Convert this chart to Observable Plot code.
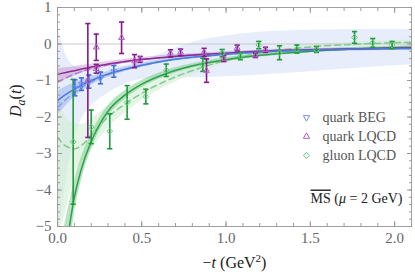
<!DOCTYPE html>
<html><head><meta charset="utf-8">
<script src="https://cdn.jsdelivr.net/npm/d3@7"></script>
<script src="https://cdn.jsdelivr.net/npm/@observablehq/plot@0.6"></script>
<style>
html,body{margin:0;padding:0;background:#fff;}
#chart{width:415px;height:279px;}
</style></head><body><div id="chart"></div>
<script>
// ---- data points ----
const begX   = [0.103, 0.142, 0.186, 0.255, 0.334];
const begY   = [-1.20, -1.10, -1.03, -0.93, -0.75];
const begErr = [0.22, 0.17, 0.18, 0.16, 0.16];

const qlX   = [0.18, 0.23, 0.23, 0.38, 0.457, 0.49, 0.67, 0.73, 0.87, 0.884, 0.987, 1.066, 1.174, 1.234];
const qlY   = [-1.00, -0.09, -0.68, 0.17, -0.47, -0.42, -0.26, -0.23, -0.23, -0.73, -0.40, -0.11, -0.31, -0.16];
const qlErr = [1.56, 0.36, 0.12, 0.43, 0.18, 0.08, 0.10, 0.09, 0.11, 0.32, 0.08, 0.08, 0.06, 0.07];

const glX   = [0.093, 0.20, 0.31, 0.413, 0.524, 0.645, 0.862, 0.977, 1.085, 1.194, 1.317, 1.42, 1.536, 1.762, 1.87, 1.985];
const glY   = [-2.68, -2.27, -2.39, -1.60, -1.44, -0.72, -0.57, -0.25, -0.33, -0.03, -0.24, -0.14, -0.15, 0.18, 0.03, -0.03];
const glErr = [1.71, 0.46, 0.48, 0.46, 0.20, 0.17, 0.18, 0.10, 0.10, 0.10, 0.19, 0.11, 0.08, 0.16, 0.12, 0.10];

// ---- fitted curves and bands ----
const cX = [0, 0.05, 0.1, 0.15, 0.2, 0.3, 0.4, 0.5, 0.65, 0.85, 1.0, 1.2, 1.5, 1.8, 2.1];

const blueSolid  = [-1.55, -1.38, -1.24, -1.11, -1.00, -0.82, -0.69, -0.58, -0.45, -0.34, -0.28, -0.22, -0.17, -0.14, -0.12];
const blueDashed = [-1.75, -1.52, -1.33, -1.17, -1.04, -0.84, -0.70, -0.59, -0.45, -0.34, -0.28, -0.22, -0.17, -0.14, -0.12];
const blueHi     = [-1.30, -1.17, -1.07, -0.98, -0.90, -0.75, -0.63, -0.53, -0.41, -0.30, -0.24, -0.18, -0.13, -0.10, -0.08];
const blueLo     = [-1.95, -1.70, -1.45, -1.28, -1.13, -0.91, -0.76, -0.64, -0.50, -0.39, -0.33, -0.27, -0.22, -0.19, -0.17];
const blueWideHi = [0.50, -0.30, -0.60, -0.65, -0.65, -0.62, -0.58, -0.50, -0.20, 0.10, 0.22, 0.32, 0.38, 0.40, 0.40];
const blueWideLo = [-5.50, -3.80, -2.60, -2.00, -1.70, -1.35, -1.10, -0.97, -0.93, -0.92, -0.90, -0.85, -0.76, -0.66, -0.57];

const purpSolid  = [-0.83, -0.78, -0.73, -0.68, -0.63, -0.55, -0.48, -0.42, -0.36, -0.29, -0.25, -0.20, -0.16, -0.13, -0.11];
const purpDashed = [-1.05, -0.93, -0.83, -0.74, -0.67, -0.57, -0.49, -0.43, -0.36, -0.29, -0.25, -0.20, -0.16, -0.13, -0.11];
const purpHi     = [-0.68, -0.65, -0.62, -0.58, -0.55, -0.48, -0.42, -0.37, -0.31, -0.25, -0.21, -0.17, -0.13, -0.10, -0.08];
const purpLo     = [-1.08, -0.97, -0.87, -0.79, -0.72, -0.62, -0.54, -0.47, -0.40, -0.33, -0.29, -0.24, -0.19, -0.16, -0.14];

const greenSolid  = [-7.00, -5.60, -4.20, -3.30, -2.68, -1.84, -1.40, -1.10, -0.80, -0.55, -0.43, -0.31, -0.20, -0.13, -0.09];
const greenDashed = [-2.55, -2.80, -2.87, -2.75, -2.50, -2.00, -1.65, -1.35, -1.00, -0.65, -0.45, -0.25, -0.08, 0.00, 0.05];
const greenHi     = [-5.80, -4.80, -3.75, -3.00, -2.46, -1.69, -1.28, -1.00, -0.72, -0.49, -0.38, -0.26, -0.16, -0.09, -0.05];
const greenLo     = [-8.20, -6.40, -4.65, -3.60, -2.90, -1.99, -1.52, -1.20, -0.88, -0.61, -0.48, -0.36, -0.24, -0.17, -0.13];
const greenWideHi = [-1.50, -2.00, -2.20, -2.20, -2.05, -1.70, -1.40, -1.15, -0.85, -0.55, -0.38, -0.20, -0.02, 0.06, 0.11];
const greenWideLo = [-5.20, -4.60, -3.60, -3.20, -2.90, -2.30, -1.90, -1.55, -1.15, -0.75, -0.52, -0.30, -0.14, -0.06, -0.01];

// ---- ticks ----
const xMajor = [0, 0.5, 1.0, 1.5, 2.0];
const xMinor = d3.range(0, 2.101, 0.1);
const yMajor = [-5, -4, -3, -2, -1, 0, 1];
const yMinor = d3.range(-5, 1.001, 0.2);

const legendLabels = ["quark BEG", "quark LQCD", "gluon LQCD"];

// ---- tables ----
const pts = (xs, ys, es) => xs.map((x, i) => ({x, y: ys[i], lo: ys[i] - es[i], hi: ys[i] + es[i]}));
const beg = pts(begX, begY, begErr);
const ql = pts(qlX, qlY, qlErr);
const gl = pts(glX, glY, glErr);
const curves = cX.map((x, i) => ({
  x, blueSolid: blueSolid[i], blueDashed: blueDashed[i], blueHi: blueHi[i], blueLo: blueLo[i],
  blueWideHi: blueWideHi[i], blueWideLo: blueWideLo[i],
  purpSolid: purpSolid[i], purpDashed: purpDashed[i], purpHi: purpHi[i], purpLo: purpLo[i],
  greenSolid: greenSolid[i], greenDashed: greenDashed[i], greenHi: greenHi[i], greenLo: greenLo[i],
  greenWideHi: greenWideHi[i], greenWideLo: greenWideLo[i]
}));

const C = {
  blue: "#3d6fd6", blueLine: "#4a7bd8", blueDash: "#7d9ee6", blueMark: "#6f8ff5",
  purp: "#861a8a", purpLine: "#8e2a93", purpDash: "#b979bd", purpMark: "#b25dc0",
  green: "#1e9b3a", greenLine: "#2f9f4c", greenDash: "#82c893", greenMark: "#5ccf74"
};

const cap = {draw(ctx, size) { const r = Math.sqrt(size / Math.PI); ctx.moveTo(-r, 0); ctx.lineTo(r, 0); }};
const crv = "monotone-x";

function errMarks(data, color) {
  return [
    Plot.ruleX(data, {x: "x", y1: "lo", y2: "hi", stroke: color, strokeWidth: 1.6, clip: true}),
    Plot.dot(data, {x: "x", y: "lo", symbol: cap, r: 2.6, stroke: color, strokeWidth: 1.6, clip: true}),
    Plot.dot(data, {x: "x", y: "hi", symbol: cap, r: 2.6, stroke: color, strokeWidth: 1.6, clip: true})
  ];
}

const tickColor = "#999";
const labColor = "#666";
const font = "Liberation Serif";
const legendSymbols = [
  {symbol: "triangle2", rotate: 180, r: 3, stroke: C.blueMark},
  {symbol: "triangle2", rotate: 0, r: 3, stroke: C.purpMark},
  {symbol: "diamond2", rotate: 0, r: 2.8, stroke: C.greenMark}
];
const legendMarks = legendLabels.flatMap((lab, i) => [
  Plot.dot([lab], {frameAnchor: "top-left", dx: 249, dy: 110 + 19 * i, symbol: legendSymbols[i].symbol,
    rotate: legendSymbols[i].rotate, r: legendSymbols[i].r, stroke: legendSymbols[i].stroke, strokeWidth: 1}),
  Plot.text([lab], {frameAnchor: "top-left", dx: 265, dy: 110 + 19 * i, text: d => d, textAnchor: "start",
    lineAnchor: "middle", fill: "#555", fontSize: 14})
]);

const plot = Plot.plot({
  width: 415, height: 279,
  marginLeft: 57, marginRight: 4, marginTop: 7, marginBottom: 53,
  x: {domain: [0, 2.1]},
  y: {domain: [-5, 1]},
  style: {fontFamily: font, fontSize: "14px", background: "#fff", overflow: "visible"},
  marks: [
    // bands
    Plot.areaY(curves, {x: "x", y1: "blueWideLo", y2: "blueWideHi", fill: "#dfe7f8", fillOpacity: 0.75, curve: crv, clip: true}),
    Plot.areaY(curves, {x: "x", y1: "greenWideLo", y2: "greenWideHi", fill: "#cfeccf", fillOpacity: 0.55, curve: crv, clip: true}),
    Plot.ruleY([0], {stroke: "#c8c8c8", strokeWidth: 1}),
    Plot.areaY(curves, {x: "x", y1: "purpLo", y2: "purpHi", fill: "#b46cc0", fillOpacity: 0.35, curve: crv, clip: true}),
    Plot.areaY(curves, {x: "x", y1: "blueLo", y2: "blueHi", fill: "#7fa0e8", fillOpacity: 0.4, curve: crv, clip: true}),
    Plot.areaY(curves, {x: "x", y1: "greenLo", y2: "greenHi", fill: "#7cce8c", fillOpacity: 0.55, curve: crv, clip: true}),
    // lines
    Plot.lineY(curves, {x: "x", y: "greenDashed", stroke: C.greenDash, strokeWidth: 1.5, strokeDasharray: "6,4", curve: crv, clip: true}),
    Plot.lineY(curves, {x: "x", y: "purpDashed", stroke: C.purpDash, strokeWidth: 1.5, strokeDasharray: "6,4", curve: crv, clip: true}),
    Plot.lineY(curves, {x: "x", y: "blueDashed", stroke: C.blueDash, strokeWidth: 1.5, strokeDasharray: "6,4", curve: crv, clip: true}),
    Plot.lineY(curves, {x: "x", y: "greenSolid", stroke: C.greenLine, strokeWidth: 1.5, curve: crv, clip: true}),
    Plot.lineY(curves, {x: "x", y: "purpSolid", stroke: C.purpLine, strokeWidth: 1.5, curve: crv, clip: true}),
    Plot.lineY(curves, {x: "x", y: "blueSolid", stroke: C.blueLine, strokeWidth: 1.5, curve: crv, clip: true}),
    // error bars
    ...errMarks(gl, C.green),
    ...errMarks(beg, C.blue),
    ...errMarks(ql, C.purp),
    // markers
    Plot.dot(gl, {x: "x", y: "y", symbol: "diamond2", r: 2.6, stroke: C.greenMark, strokeWidth: 1, clip: true}),
    Plot.dot(beg, {x: "x", y: "y", symbol: "triangle2", rotate: 180, r: 2.8, stroke: C.blueMark, strokeWidth: 1, clip: true}),
    Plot.dot(ql, {x: "x", y: "y", symbol: "triangle2", r: 2.8, stroke: C.purpMark, strokeWidth: 1, clip: true}),
    // frame & axes
    Plot.frame({stroke: "#a0a0a0", strokeWidth: 1}),
    Plot.axisX(xMajor, {anchor: "bottom", tickSize: 0, tickPadding: 6, tickFormat: d3.format(".1f"), fill: labColor, fontSize: 15, label: null}),
    Plot.axisX(xMajor, {anchor: "bottom", tickSize: -5, stroke: tickColor, tickFormat: () => "", label: null}),
    Plot.axisX(xMinor, {anchor: "bottom", tickSize: -3, stroke: tickColor, tickFormat: () => "", label: null}),
    Plot.axisX(xMajor, {anchor: "top", tickSize: -5, stroke: tickColor, tickFormat: () => "", label: null}),
    Plot.axisX(xMinor, {anchor: "top", tickSize: -3, stroke: tickColor, tickFormat: () => "", label: null}),
    Plot.axisY(yMajor, {anchor: "left", tickSize: 0, tickPadding: 6, fill: labColor, fontSize: 15, label: null}),
    Plot.axisY(yMajor, {anchor: "left", tickSize: -5, stroke: tickColor, tickFormat: () => "", label: null}),
    Plot.axisY(yMinor, {anchor: "left", tickSize: -3, stroke: tickColor, tickFormat: () => "", label: null}),
    Plot.axisY(yMajor, {anchor: "right", tickSize: -5, stroke: tickColor, tickFormat: () => "", label: null}),
    Plot.axisY(yMinor, {anchor: "right", tickSize: -3, stroke: tickColor, tickFormat: () => "", label: null}),
    // axis titles
    Plot.text(["XLABEL"], {frameAnchor: "bottom", dy: 41, text: d => d, fontSize: 16, fill: "#222"}),
    Plot.text(["YLABEL"], {frameAnchor: "left", dx: -42, rotate: -90, text: d => d, fontSize: 16, fill: "#222"}),
    // legend
    ...legendMarks,
    Plot.text(["MSLABEL"], {frameAnchor: "bottom-right", dx: -9, dy: -24, text: d => d, textAnchor: "end", fill: "#222", fontSize: 14})
  ]
});

document.getElementById("chart").appendChild(plot);

const svg = d3.select(plot);
function rebuild(match, builder) {
  svg.selectAll("text").filter(function() { return this.textContent === match; }).each(function() {
    const t = d3.select(this);
    t.text(null);
    builder(t);
  });
}
rebuild("XLABEL", t => {
  t.append("tspan").text("\u2212");
  t.append("tspan").attr("font-style", "italic").text("t");
  t.append("tspan").text(" (GeV");
  t.append("tspan").attr("dy", -6).attr("font-size", 11).text("2");
  t.append("tspan").attr("dy", 6).text(")");
});
rebuild("YLABEL", t => {
  t.append("tspan").attr("font-style", "italic").text("D");
  t.append("tspan").attr("font-style", "italic").attr("dy", 4).attr("font-size", 12).text("a");
  t.append("tspan").attr("dy", -4).text("(");
  t.append("tspan").attr("font-style", "italic").text("t");
  t.append("tspan").text(")");
});
rebuild("MSLABEL", t => {
  t.append("tspan").attr("text-decoration", "overline").style("text-decoration", "overline").text("MS");
  t.append("tspan").text(" (");
  t.append("tspan").attr("font-style", "italic").text("\u03bc");
  t.append("tspan").text(" = 2 GeV)");
});
</script>
</body></html>
